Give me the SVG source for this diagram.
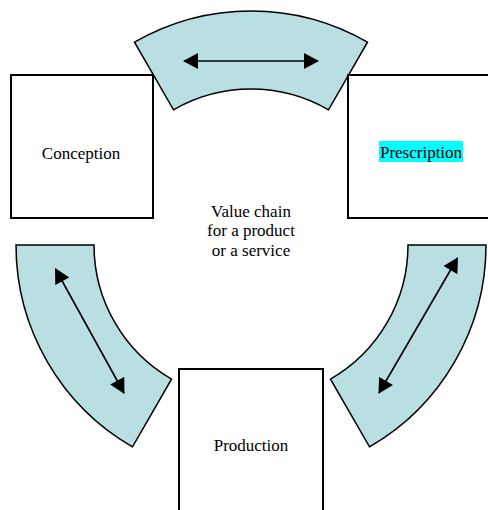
<svg xmlns="http://www.w3.org/2000/svg" width="488" height="510" viewBox="0 0 488 510">
  <style>
    .box { fill: #ffffff; stroke: #000000; stroke-width: 2; }
    .band { fill: #badfe2; stroke: #000000; stroke-width: 1.5; stroke-linejoin: miter; }
    .link { stroke: #000000; stroke-width: 1.6; fill: none; marker-start: url(#head); marker-end: url(#head); }
    text { font-family: "Liberation Serif", "Times New Roman", serif; font-size: 17px; fill: #000000; text-anchor: middle; }
  </style>
  <defs>
    <marker id="head" markerUnits="userSpaceOnUse" markerWidth="16" markerHeight="16" viewBox="0 0 15 16" refX="14" refY="8" orient="auto-start-reverse">
      <path d="M0,0 L15,8 L0,16 Z" fill="#000000"/>
    </marker>
  </defs>

  <rect width="488" height="510" fill="#ffffff"/>

  <!-- curved bands with two-way arrows between the stages -->
  <g id="connectors">
    <path class="band" d="M134.5,42.2 A233,233 0 0 1 367.5,42.2 L328.5,109.8 A155,155 0 0 0 173.5,109.8 Z"/>
    <path class="band" d="M16,245 L94,245 A155,155 0 0 0 171.5,379.2 L132.5,446.8 A233,233 0 0 1 16,245 Z"/>
    <path class="band" d="M408,245 L486,245 A233,233 0 0 1 369.5,446.8 L330.5,379.2 A155,155 0 0 0 408,245 Z"/>
    <line class="link" x1="184" y1="61" x2="318" y2="61"/>
    <line class="link" x1="55.5" y1="269" x2="124" y2="393"/>
    <line class="link" x1="457.5" y1="258" x2="379" y2="393"/>
  </g>

  <g id="conception">
    <rect class="box" x="11" y="75" width="142" height="143"/>
    <text x="81" y="159">Conception</text>
  </g>

  <g id="prescription">
    <rect class="box" x="348" y="75" width="150" height="143"/>
    <rect x="379" y="141" width="84" height="21" fill="#00ffff"/>
    <text x="421" y="158">Prescription</text>
  </g>

  <g id="production">
    <rect class="box" x="179" y="369" width="144" height="150"/>
    <text x="251" y="451">Production</text>
  </g>

  <g id="value-chain">
    <text x="251" y="217">Value chain</text>
    <text x="251" y="236">for a product</text>
    <text x="251" y="256">or a service</text>
  </g>
</svg>
